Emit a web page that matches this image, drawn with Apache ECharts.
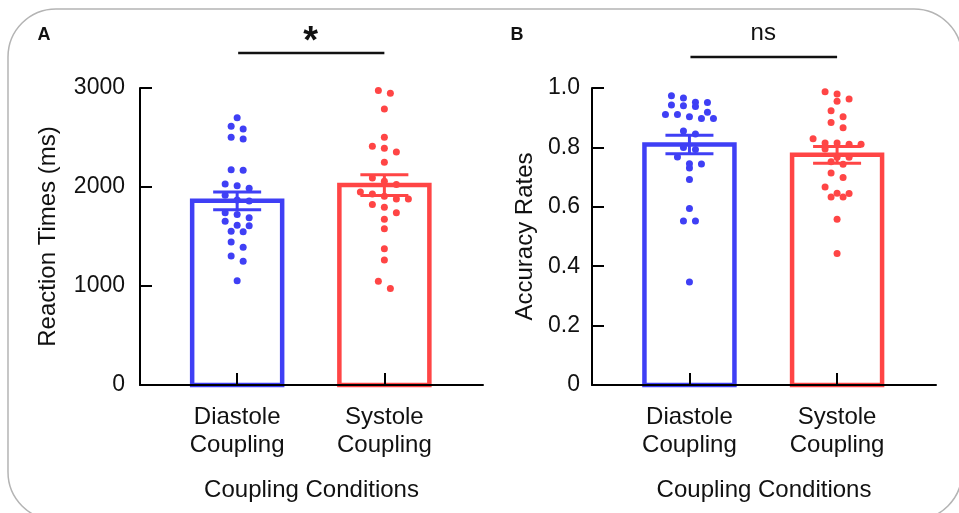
<!DOCTYPE html>
<html lang="en">
<head>
<meta charset="UTF-8">
<title>Coupling conditions</title>
<script src="https://cdn.jsdelivr.net/npm/echarts@6/dist/echarts.min.js"></script>
<style>html,body{margin:0;padding:0;background:#fff;}</style>
</head>
<body>
<div id="main" style="width:959px;height:513px;"></div>
<script>
var categories = ['Diastole\nCoupling', 'Systole\nCoupling'];
var colors = ['#3f3ff5', '#ff4545'];

// A: reaction times (ms), one dot per participant
var rtDiastole = [2700, 2613, 2586, 2502, 2485, 2175, 2168, 2030, 2013, 1987, 1916, 1869, 1859,
    1741, 1721, 1690, 1653, 1613, 1609, 1552, 1549, 1444, 1391, 1303, 1249, 1054];
var rtSystole = [2976, 2946, 2788, 2502, 2411, 2391, 2354, 2249, 2091, 2057, 2024, 1949, 1929,
    1906, 1879, 1879, 1822, 1795, 1741, 1673, 1579, 1377, 1263, 1047, 976];
var rtMean = [1860, 2020];
var rtSem = [90, 105];

// B: accuracy rates
var accDiastole = [0.974, 0.966, 0.952, 0.951, 0.943, 0.940, 0.938, 0.918, 0.911, 0.911, 0.903,
    0.897, 0.897, 0.855, 0.845, 0.800, 0.793, 0.768, 0.745, 0.744, 0.731, 0.692, 0.594, 0.552,
    0.552, 0.347];
var accSystole = [0.987, 0.980, 0.963, 0.955, 0.923, 0.903, 0.884, 0.866, 0.829, 0.815, 0.815,
    0.811, 0.811, 0.795, 0.767, 0.767, 0.752, 0.743, 0.714, 0.699, 0.667, 0.646, 0.645, 0.633,
    0.633, 0.558, 0.443];
var accMean = [0.81, 0.775];
var accSem = [0.031, 0.028];

var significance = ['*', 'ns'];
var panelTitles = ['A', 'B'];

var FONT = '"Liberation Sans", Arial, Helvetica, sans-serif';
var W = 959, H = 513;
var grids = [
    { left: 140, right: 476, top: 88, bottom: 128 },
    { left: 592, right: 23, top: 88, bottom: 128 }
];
var xMin = 0.34, xMax = 2.67;
var xPos = [1, 2];

var chart = echarts.init(document.getElementById('main'));

// beeswarm: points of close value share a row, spread 12px apart
function swarm(values, xc, gi, yMax) {
    var g = grids[gi];
    var pxX = (W - g.left - g.right) / (xMax - xMin);
    var pxY = (H - g.top - g.bottom) / yMax;
    var sorted = values.slice().sort(function (a, b) { return b - a; });
    var rows = [], row = null;
    sorted.forEach(function (v) {
        if (row && (row[0] - v) * pxY < 8.5) row.push(v);
        else { row = [v]; rows.push(row); }
    });
    var out = [];
    rows.forEach(function (r) {
        r.forEach(function (v, i) {
            var off = (i - (r.length - 1) / 2) * 12;
            out.push([xc + off / pxX, v]);
        });
    });
    return out;
}

function barSeries(idx, means) {
    return {
        type: 'custom', xAxisIndex: idx, yAxisIndex: idx, z: 2, silent: true,
        data: means.map(function (m, i) { return [xPos[i], m, i]; }),
        renderItem: function (params, api) {
            var p0 = api.coord([api.value(0), 0]);
            var p1 = api.coord([api.value(0), api.value(1)]);
            var bw = 90;
            return {
                type: 'rect',
                shape: { x: p0[0] - bw / 2, y: p1[1], width: bw, height: p0[1] - p1[1] },
                style: { fill: '#fff', stroke: colors[api.value(2)], lineWidth: 4.5 }
            };
        }
    };
}

function errSeries(idx, means, sems) {
    return {
        type: 'custom', xAxisIndex: idx, yAxisIndex: idx, z: 6, silent: true,
        data: means.map(function (m, i) { return [xPos[i], m, sems[i], i]; }),
        renderItem: function (params, api) {
            var x = api.value(0), m = api.value(1), s = api.value(2);
            var hi = api.coord([x, m + s]), lo = api.coord([x, m - s]);
            var st = { stroke: colors[api.value(3)], lineWidth: 3 };
            var cap = 24;
            return {
                type: 'group', children: [
                    { type: 'line', shape: { x1: hi[0], y1: hi[1], x2: lo[0], y2: lo[1] }, style: st },
                    { type: 'line', shape: { x1: hi[0] - cap, y1: hi[1], x2: hi[0] + cap, y2: hi[1] }, style: st },
                    { type: 'line', shape: { x1: lo[0] - cap, y1: lo[1], x2: lo[0] + cap, y2: lo[1] }, style: st }
                ]
            };
        }
    };
}

function dotSeries(idx, values, ci, yMax) {
    return {
        type: 'scatter', xAxisIndex: idx, yAxisIndex: idx, z: 4, silent: true,
        symbol: 'circle', symbolSize: 7,
        itemStyle: { color: colors[ci], opacity: 1 },
        data: swarm(values, xPos[ci], idx, yMax)
    };
}

var nameStyle = { color: '#111', fontFamily: FONT, fontSize: 24 };

function xAxisFor(idx) {
    return {
        type: 'value', gridIndex: idx, min: xMin, max: xMax, z: 5,
        name: 'Coupling Conditions', nameLocation: 'middle', nameGap: 93,
        nameMoveOverlap: false,
        nameTextStyle: nameStyle,
        axisLine: { show: true, onZero: false, lineStyle: { color: '#000', width: 2 } },
        axisTick: { show: true, inside: true, length: 12, customValues: xPos, lineStyle: { color: '#000', width: 2 } },
        axisLabel: {
            customValues: xPos, margin: 18, lineHeight: 28,
            color: '#111', fontFamily: FONT, fontSize: 24,
            formatter: function (v) { return categories[Math.round(v) - 1]; }
        },
        splitLine: { show: false }
    };
}

function yAxisFor(idx, max, interval, name, nameGap, fmt, margin) {
    return {
        type: 'value', gridIndex: idx, min: 0, max: max, interval: interval, z: 5,
        name: name, nameLocation: 'middle', nameGap: nameGap, nameRotate: 90,
        nameMoveOverlap: false,
        nameTextStyle: nameStyle,
        axisLine: { show: true, lineStyle: { color: '#000', width: 2 } },
        axisTick: { show: true, inside: true, length: 12, lineStyle: { color: '#000', width: 2 } },
        axisLabel: { margin: margin, color: '#111', fontFamily: FONT, fontSize: 23, formatter: fmt },
        splitLine: { show: false }
    };
}

var option = {
    backgroundColor: '#fff',
    animation: false,
    grid: grids.map(function (g) {
        return Object.assign({ outerBoundsMode: 'none', containLabel: false }, g);
    }),
    xAxis: [xAxisFor(0), xAxisFor(1)],
    yAxis: [
        yAxisFor(0, 3000, 1000, 'Reaction Times (ms)', 80, function (v) { return String(v); }, 15),
        yAxisFor(1, 1, 0.2, 'Accuracy Rates', 55, function (v) { return v === 0 ? '0' : v.toFixed(1); }, 12)
    ],
    series: [
        barSeries(0, rtMean),
        dotSeries(0, rtDiastole, 0, 3000),
        dotSeries(0, rtSystole, 1, 3000),
        errSeries(0, rtMean, rtSem),
        barSeries(1, accMean),
        dotSeries(1, accDiastole, 0, 1),
        dotSeries(1, accSystole, 1, 1),
        errSeries(1, accMean, accSem)
    ]
};
chart.setOption(option);

// frame, panel letters and significance brackets
var graphics = [{
    type: 'rect', z: -1, silent: true,
    shape: { x: 8, y: 9, width: 954, height: 511, r: 48 },
    style: { fill: 'none', stroke: '#b4b4b4', lineWidth: 1.5 }
}];
var titleX = [44, 517];
var lineY = [53, 57];
var markY = [43, 33];
[0, 1].forEach(function (i) {
    var xa = chart.convertToPixel({ xAxisIndex: i }, xPos[0]);
    var xb = chart.convertToPixel({ xAxisIndex: i }, xPos[1]);
    graphics.push({
        type: 'text', silent: true, x: titleX[i], y: 35,
        style: { text: panelTitles[i], font: 'bold 18px ' + FONT, fill: '#111', align: 'center', verticalAlign: 'middle' }
    });
    graphics.push({
        type: 'line', silent: true,
        shape: { x1: xa + 1, y1: lineY[i], x2: xb, y2: lineY[i] },
        style: { stroke: '#111', lineWidth: 2.5 }
    });
    graphics.push({
        type: 'text', silent: true, x: (xa + xb) / 2, y: markY[i],
        style: {
            text: significance[i],
            font: (i === 0 ? 'bold 38px ' : '24px ') + FONT,
            fill: '#111', align: 'center', verticalAlign: 'middle'
        }
    });
});
chart.setOption({ graphic: graphics });
</script>
</body>
</html>
